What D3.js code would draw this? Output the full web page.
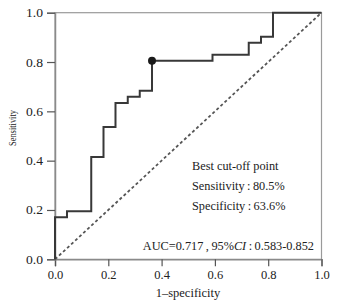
<html>
  <head>
    <meta charset="utf-8" />
    <script src="https://cdnjs.cloudflare.com/ajax/libs/d3/7.6.1/d3.min.js"></script>
    <style>
      body { margin: 0; background: #fff; }
      svg { font-family: "Liberation Serif", "DejaVu Serif", serif; }
    </style>
  </head>
  <body>
    <svg width="343" height="307"></svg>
  </body>
  <script>
    // ROC corner points (1-specificity, sensitivity)
    const fpr = [0, 0, 0.045, 0.136, 0.182, 0.227, 0.273, 0.318, 0.364, 0.591, 0.727, 0.773, 0.818, 1];
    const sens = [0, 0.171, 0.195, 0.415, 0.537, 0.634, 0.659, 0.683, 0.805, 0.829, 0.878, 0.902, 1, 1];
    const bestCut = [0.364, 0.805];
    const ticks = [0, 0.2, 0.4, 0.6, 0.8, 1.0];
    const noteLines = ["Best cut-off point", "Sensitivity\u2009:\u200980.5%", "Specificity\u2009:\u200963.6%"];

    const svg = d3.select("svg");
    const x = d3.scaleLinear().domain([0, 1]).range([55, 321.5]);
    const y = d3.scaleLinear().domain([0, 1]).range([259.3, 12.7]);

    // frame
    svg.append("rect")
      .attr("x", x(0)).attr("y", y(1))
      .attr("width", x(1) - x(0)).attr("height", y(0) - y(1))
      .attr("fill", "none").attr("stroke", "#9a9a9a").attr("stroke-width", 1.2);

    const xAxis = d3.axisBottom(x).tickValues(ticks).tickFormat(d3.format(".1f")).tickSize(7).tickPadding(4);
    const gx = svg.append("g").attr("transform", `translate(0,${y(0)})`).call(xAxis);
    const yAxis = d3.axisLeft(y).tickValues(ticks).tickFormat(d3.format(".1f")).tickSize(8).tickPadding(4);
    const gy = svg.append("g").attr("transform", `translate(${x(0)},0)`).call(yAxis);

    [gx, gy].forEach((g) => {
      g.select(".domain").attr("stroke", "#8a8a8a").attr("stroke-width", 1.5);
      g.selectAll(".tick line").attr("stroke", "#555").attr("stroke-width", 1.2);
      g.selectAll(".tick text")
        .attr("fill", "#222")
        .style("font-family", "Liberation Serif")
        .style("font-size", "12.5px");
    });
    gy.selectAll(".tick text").attr("textLength", 17).attr("lengthAdjust", "spacingAndGlyphs");

    // reference diagonal
    svg.append("line")
      .attr("x1", x(0)).attr("y1", y(0))
      .attr("x2", x(1)).attr("y2", y(1))
      .attr("stroke", "#555").attr("stroke-width", 1.8)
      .attr("stroke-dasharray", "3,2.5");

    // ROC curve
    const pts = fpr.map((f, i) => [f, sens[i]]);
    const line = d3.line().x((d) => x(d[0])).y((d) => y(d[1])).curve(d3.curveStepAfter);
    svg.append("path")
      .attr("d", line(pts))
      .attr("fill", "none")
      .attr("stroke", "#383838")
      .attr("stroke-width", 2);

    svg.append("circle")
      .attr("cx", x(bestCut[0])).attr("cy", y(bestCut[1]))
      .attr("r", 4).attr("fill", "#1a1a1a");

    // annotations
    svg.selectAll(".note")
      .data(noteLines)
      .join("text")
      .attr("class", "note")
      .attr("x", 192)
      .attr("y", (d, i) => 170 + i * 20)
      .attr("fill", "#222")
      .style("font-size", "12.3px")
      .text((d) => d);

    const auc = svg.append("text")
      .attr("x", 314).attr("y", 250)
      .attr("text-anchor", "end")
      .attr("fill", "#222")
      .style("font-size", "12.3px");
    auc.append("tspan").text("AUC=0.717\u2009,\u200995%");
    auc.append("tspan").style("font-style", "italic").text("CI");
    auc.append("tspan").text("\u2009:\u20090.583-0.852");

    svg.append("text")
      .attr("x", 188).attr("y", 296.5)
      .attr("text-anchor", "middle")
      .attr("fill", "#222")
      .style("font-size", "12.5px")
      .text("1\u2013specificity");

    svg.append("text")
      .attr("transform", "translate(16,128) rotate(-90)")
      .attr("text-anchor", "middle")
      .attr("fill", "#222")
      .attr("textLength", 36)
      .attr("lengthAdjust", "spacingAndGlyphs")
      .style("font-size", "11px")
      .text("Sensitivity");
  </script>
</html>
